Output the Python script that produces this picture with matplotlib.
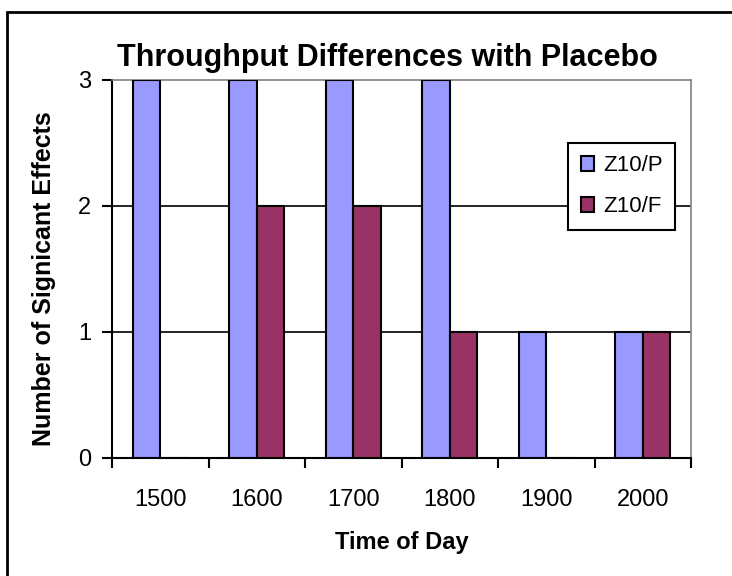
import numpy as np
import matplotlib.pyplot as plt
from matplotlib.patches import Rectangle

times = ["1500", "1600", "1700", "1800", "1900", "2000"]
z10_p = [3, 3, 3, 3, 1, 1]
z10_f = [0, 2, 2, 1, 0, 1]

plt.rcParams['font.family'] = ['Liberation Sans', 'DejaVu Sans']

fig = plt.figure(figsize=(7.32, 5.76), dpi=100)
ax = fig.add_axes([112 / 732, 1 - 458 / 576, 579 / 732, 378 / 576])

# outer chart frame (only left and top edges visible in the picture)
fig.patches.append(Rectangle((7 / 732, -0.1), 1.2, 1 - 12 / 576 + 0.1,
                             transform=fig.transFigure, fill=False,
                             edgecolor="black", linewidth=2))

x = np.arange(len(times))
w = 1 / 3.5
ax.bar(x - w / 2, z10_p, w, color="#9999FF", edgecolor="black", linewidth=1.5,
       label="Z10/P", zorder=3)
ax.bar(x + w / 2, z10_f, w, color="#993366", edgecolor="black", linewidth=1.5,
       label="Z10/F", zorder=3)

ax.set_xlim(-0.5, len(times) - 0.5)
ax.set_ylim(0, 3)
ax.set_yticks([0, 1, 2, 3])
for v in [1, 2]:
    ax.axhline(v, color="black", linewidth=1.2, zorder=1)

ax.set_xticks(x)
ax.set_xticklabels(times)
ax.set_xticks(np.arange(-0.5, len(times)), minor=True)
ax.tick_params(axis="x", which="major", length=0, pad=22, labelsize=17)
ax.tick_params(axis="x", which="minor", length=7, width=1.5, direction="out")
ax.tick_params(axis="y", length=7, width=1.5, direction="out", labelsize=17, pad=8)

ax.spines["left"].set_linewidth(1.5)
ax.spines["bottom"].set_linewidth(1.5)
ax.spines["top"].set_color("#808080")
ax.spines["right"].set_color("#808080")
ax.spines["top"].set_linewidth(1.2)
ax.spines["right"].set_linewidth(1.2)

fig.text(402 / 732, 1 - 542 / 576, "Time of Day", ha="center", va="center",
         fontsize=17, fontweight="bold")
fig.text(44 / 732, 1 - 279 / 576, "Number of Signicant Effects", ha="center",
         va="center", rotation=90, fontsize=18, fontweight="bold")
fig.text(387 / 732, 1 - 58 / 576, "Throughput Differences with Placebo",
         ha="center", va="center", fontsize=22, fontweight="bold")

leg = ax.legend(loc="upper right", bbox_to_anchor=(0.972, 0.833), fontsize=16,
                fancybox=False, edgecolor="black", framealpha=1,
                handlelength=0.6, handleheight=0.6, handletextpad=0.4,
                borderpad=0.55, labelspacing=0.9, borderaxespad=0)
leg.get_frame().set_linewidth(1.5)

fig.savefig("out.png", dpi=100)
